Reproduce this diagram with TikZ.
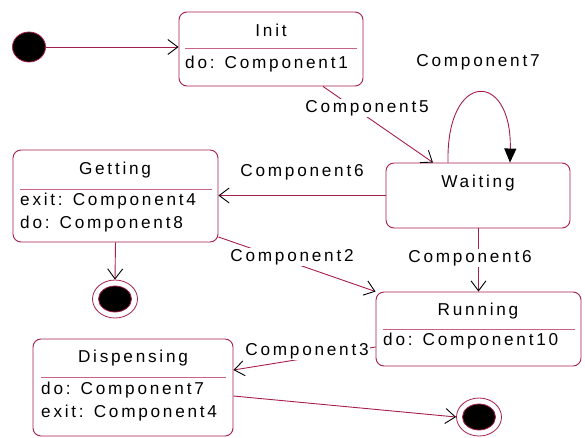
\documentclass[tikz,border=0pt]{standalone}
\usepackage{fontspec}
\setmainfont{Liberation Sans}[LetterSpace=16]
\usetikzlibrary{arrows.meta,calc,shapes.geometric}
\definecolor{crim}{RGB}{165,30,78}
\definecolor{divc}{RGB}{200,100,135}
\tikzset{
  statebox/.style={draw=crim, line width=0.9pt, rounded corners=8pt, fill=white, inner sep=0pt},
  txt/.style={inner sep=0pt, font=\fontsize{17.2}{19}\selectfont, text=black},
  ltxt/.style={txt, anchor=west},
  elabel/.style={txt, fill=white, inner sep=1.5pt},
  divider/.style={draw=divc, line width=1pt},
  conn/.style={draw=crim, line width=0.9pt, -{Straight Barb[length=10pt,width=15pt,color=black,line width=0.9pt]}},
  initstate/.style={ellipse, draw=crim, fill=black, line width=0.8pt, minimum width=33pt, minimum height=30pt, inner sep=0pt},
  finalout/.style={ellipse, draw=crim, fill=white, line width=0.8pt, minimum width=45pt, minimum height=38pt, inner sep=0pt},
  finalin/.style={ellipse, draw=crim, fill=black, line width=0.8pt, minimum width=33pt, minimum height=26pt, inner sep=0pt},
}
\begin{document}
\begin{tikzpicture}[x=1pt,y=-1pt]
\useasboundingbox (0,0) rectangle (585,437);

% states
\node[statebox, minimum width=184pt, minimum height=74pt] (init) at (271,49) {};
\node[statebox, minimum width=184pt, minimum height=65pt] (waiting) at (478,195.5) {};
\node[statebox, minimum width=205pt, minimum height=92pt] (getting) at (115.5,196) {};
\node[statebox, minimum width=205pt, minimum height=74pt] (running) at (478.5,329) {};
\node[statebox, minimum width=200pt, minimum height=97pt] (dispensing) at (133,387.5) {};

% dividers
\coordinate (initdl) at (185,48); \coordinate (initdr) at (357,48);
\draw[divider] (initdl) -- (initdr);
\coordinate (getdl) at (20,189); \coordinate (getdr) at (212,189);
\draw[divider] (getdl) -- (getdr);
\coordinate (rundl) at (383,329); \coordinate (rundr) at (575,329);
\draw[divider] (rundl) -- (rundr);
\coordinate (disdl) at (41,377); \coordinate (disdr) at (226,377);
\draw[divider] (disdl) -- (disdr);

% texts
\node[txt] (initT) at (271,30) {Init};
\node[ltxt] (initD) at (185,64) {do: Component1};
\node[txt] (waitT) at (478,183) {Waiting};
\node[txt] (getT) at (115,170) {Getting};
\node[ltxt] (getA) at (20,201) {exit: Component4};
\node[ltxt] (getB) at (20,224) {do: Component8};
\node[txt] (runT) at (478,311) {Running};
\node[ltxt] (runD) at (383,341) {do: Component10};
\node[txt] (disT) at (133,358) {Dispensing};
\node[ltxt] (disA) at (41,390) {do: Component7};
\node[ltxt] (disB) at (41,413) {exit: Component4};

% pseudo states
\node[initstate] (start) at (29,47) {};
\node[finalout] (fin1) at (115,299) {};
\node[finalin] (fin1i) at (115,299) {};
\node[finalout] (fin2) at (479,417) {};
\node[finalin] (fin2i) at (479,417) {};

% connectors
\draw[conn] (start.east) -- (init.west |- start.east);
\draw[conn] ([xshift=52pt]init.south) -- ([xshift=-45pt]waiting.north);
\node[elabel] (l5) at (367,108) {Component5};

\draw[draw=crim, line width=0.9pt, -{Triangle[length=14pt,width=12pt,color=black]}]
  ([xshift=-30pt]waiting.north) .. controls (446,70) and (512,70) .. ([xshift=32pt]waiting.north);
\node[txt] (l7) at (478,62) {Component7};

\draw[conn] (waiting.west) -- (getting.east |- waiting.west);
\node[txt] (l6a) at (302,172) {Component6};

\draw[conn] (getting.south) -- (fin1.north);

\draw[conn] ([yshift=-41pt]getting.east) -- (running.north west);
\node[elabel] (l2) at (292,257) {Component2};

\draw[conn] ([xshift=0.5pt]waiting.south) -- (running.north);
\node[elabel] (l6b) at (470,258) {Component6};

\draw[conn] ([yshift=-18pt]running.west) -- ([yshift=17.5pt]dispensing.east);
\node[elabel] (l3) at (307,351) {Component3};

\draw[conn] ([yshift=-8.5pt]dispensing.east) -- (fin2.west);
\end{tikzpicture}
\end{document}
